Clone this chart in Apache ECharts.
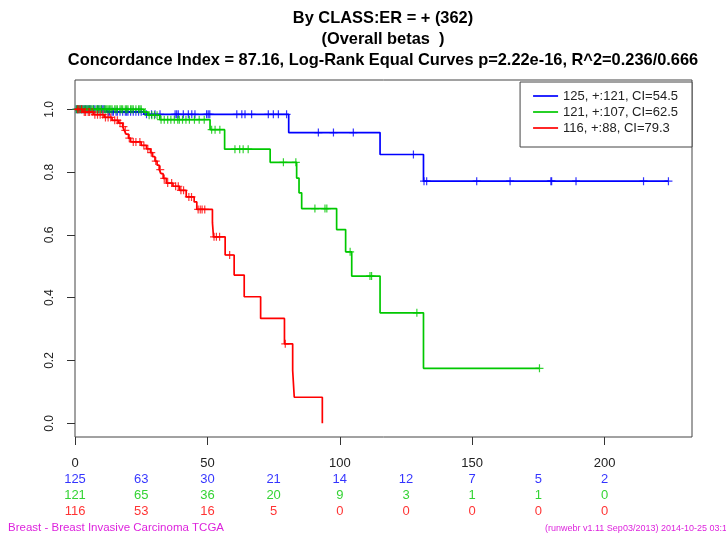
<!DOCTYPE html>
<html><head><meta charset="utf-8">
<script src="https://cdn.jsdelivr.net/npm/echarts@6/dist/echarts.min.js"></script>
<style>html,body{margin:0;padding:0;background:#fff}#c{width:726px;height:539px}</style>
</head><body><div id="c"></div>
<script>
// ---------- data ----------
const titleLines = [
  'By CLASS:ER = + (362)',
  '(Overall betas  )',
  'Concordance Index = 87.16, Log-Rank Equal Curves p=2.22e-16, R^2=0.236/0.666'
];
const footerLeft = 'Breast - Breast Invasive Carcinoma TCGA';
const footerRight = '(runwebr v1.11 Sep03/2013) 2014-10-25 03:10';
const groupNames = ['125, +:121, CI=54.5', '121, +:107, CI=62.5', '116, +:88, CI=79.3'];
const xTicks = [0, 50, 100, 150, 200];
const yTicks = [0, 0.2, 0.4, 0.6, 0.8, 1.0];

// Kaplan-Meier steps (time, survival after event)
const blueTimes = [0, 12, 26, 80.7, 115.2, 131.6];
const blueSurv  = [1, 0.992, 0.984, 0.926, 0.856, 0.771];
const blueLast  = 224.1;
const blueCensor = [0.5,1,1.5,2,2.5,3,3.5,4,4.5,5,5.5,6,7,7.5,8.5,9,10,10.5,11,12.5,13,14,14.5,15.5,16,17,18,19,19.5,20,21,22,23,24,25,27,28.9,30.2,32.1,37.8,38.4,39.0,40.9,42.8,44.1,45.3,49.7,50.3,50.9,61.1,63.0,64.2,66.7,73.0,74.9,76.8,79.9,91.9,97.6,105.1,127.8,131.8,132.8,151.7,164.3,179.7,180.0,189.2,214.7,224.1];

const greenTimes = [0, 26, 27.5, 32, 51.0, 56.5, 73.7, 83.7, 84.6, 85.6, 98.8, 102.2, 104.5, 115.2, 131.6];
const greenSurv  = [1, 0.991, 0.981, 0.967, 0.935, 0.873, 0.831, 0.781, 0.734, 0.684, 0.617, 0.546, 0.469, 0.352, 0.175];
const greenLast  = 175.4;
const greenCensor = [0.5,1,1.5,2,2.5,3,3.5,4,4.5,5,5.5,6,6.5,7,8,8.5,9,9.5,10,11,11.5,12,12.5,13,13.5,14,15,15.5,16,17,17.5,18,19,19.5,20,21,21.5,22,23,24,24.5,25,26.5,28,29,30,31,32.5,33.7,35.0,36.2,37.5,38.8,39.4,40.6,41.9,43.2,45.1,46.9,48.8,51.6,52.9,54.7,60.4,62.2,63.5,65.4,78.7,83.4,90.6,94.4,95.1,103.9,111.4,112.0,129.1,175.4];

const redTimes = [0, 3, 7, 11, 14, 16.5, 18, 18.6, 19.3, 20.2, 21, 25, 27, 28.5, 29.3, 30.2, 31, 31.8, 32.5, 33.3, 34.5, 37, 39.5, 42, 45, 46, 51.9, 52.3, 56.7, 60.1, 63.9, 70.1, 79.1, 82.2, 82.8, 93.4];
const redSurv  = [1, 0.991, 0.983, 0.974, 0.965, 0.956, 0.945, 0.933, 0.921, 0.908, 0.896, 0.885, 0.874, 0.862, 0.849, 0.835, 0.822, 0.808, 0.795, 0.78, 0.765, 0.755, 0.742, 0.721, 0.705, 0.681, 0.639, 0.594, 0.536, 0.472, 0.403, 0.334, 0.253, 0.168, 0.083, 0];
const redLast  = 93.4;
const redCensor = [1,1.5,2.5,3.5,4,5,5.5,6.5,7.5,8.5,9.5,10.5,11.5,12.5,13.5,15,16,17,18.3,19,20.5,22,23,24.5,26,27.5,28.8,30.5,32.2,33.7,35,36.5,38,39,40,41,43,44,46.5,47.3,48,49,52.5,53.4,54.6,58.4,79.4];

// numbers at risk
const riskTimes = [0, 25, 50, 75, 100, 125, 150, 175, 200];
const blueRisk  = [125, 63, 30, 21, 14, 12, 7, 5, 2];
const greenRisk = [121, 65, 36, 20, 9, 3, 1, 1, 0];
const redRisk   = [116, 53, 16, 5, 0, 0, 0, 0, 0];

// ---------- build ----------
const colors = ['#0000ff', '#00c800', '#ff0000'];
const FONT = '"Liberation Sans", Arial, Helvetica, sans-serif';
const groups = [
  {t: blueTimes, s: blueSurv, last: blueLast, c: blueCensor, r: blueRisk},
  {t: greenTimes, s: greenSurv, last: greenLast, c: greenCensor, r: greenRisk},
  {t: redTimes, s: redSurv, last: redLast, c: redCensor, r: redRisk}
];
function survAt(g, x) {
  let v = g.s[0];
  for (let i = 0; i < g.t.length; i++) if (g.t[i] <= x) v = g.s[i];
  return v;
}
const XMAX = 233.0, YMIN = -0.0436, YMAX = 1.0933;
const series = [];
groups.forEach((g, k) => {
  const pts = g.t.map((t, i) => [t, g.s[i]]);
  if (g.last > g.t[g.t.length - 1]) pts.push([g.last, g.s[g.s.length - 1]]);
  series.push({
    type: 'line', name: groupNames[k], step: 'end', data: pts,
    xAxisIndex: 0, yAxisIndex: 0,
    symbol: 'none', lineStyle: {color: colors[k], width: 1.7}, itemStyle: {color: colors[k]},
    silent: true, z: 2 + k
  });
});
groups.forEach((g, k) => {
  series.push({
    type: 'scatter', name: 'censor' + k, data: g.c.map(x => [x, survAt(g, x)]),
    xAxisIndex: 0, yAxisIndex: 0,
    symbol: 'path://M5 0L5 10M0 5L10 5', symbolSize: 8,
    itemStyle: {color: colors[k], borderColor: colors[k], borderWidth: 1.2},
    silent: true, z: 2 + k
  });
});
groups.forEach((g, k) => {
  series.push({
    type: 'scatter', name: 'risk' + k,
    data: riskTimes.map((t, i) => [t, k, g.r[i]]),
    xAxisIndex: 1, yAxisIndex: 1,
    symbolSize: 1, itemStyle: {color: 'transparent'},
    label: {show: true, position: 'inside', formatter: p => String(p.value[2]),
      color: colors[k], fontSize: 13, fontFamily: FONT},
    silent: true
  });
});

const chart = echarts.init(document.getElementById('c'), null, {renderer: 'canvas'});
chart.setOption({
  animation: false,
  backgroundColor: '#fff',
  grid: [
    {left: 75, right: 34, top: 80, bottom: 102, show: true, borderColor: '#444', borderWidth: 1, backgroundColor: 'transparent'},
    {left: 75, right: 34, top: 471, height: 48, show: false}
  ],
  xAxis: [
    {type: 'value', gridIndex: 0, position: 'bottom', min: 0, max: XMAX, splitLine: {show: false},
      axisLine: {show: false, onZero: false},
      axisTick: {show: true, inside: false, customValues: xTicks, length: 8, lineStyle: {color: '#333'}},
      axisLabel: {show: true, inside: false, customValues: xTicks, margin: 20, fontSize: 13, fontFamily: FONT, color: '#222'}},
    {type: 'value', gridIndex: 1, min: 0, max: XMAX, show: false}
  ],
  yAxis: [
    {type: 'value', gridIndex: 0, position: 'left', min: YMIN, max: YMAX, splitLine: {show: false},
      axisLine: {show: false, onZero: false},
      axisTick: {show: true, inside: false, customValues: yTicks, length: 8, lineStyle: {color: '#333'}},
      axisLabel: {show: true, customValues: yTicks, rotate: 90, margin: 19, fontSize: 12, fontFamily: FONT, color: '#222',
        formatter: v => v.toFixed(1)}},
    {type: 'category', gridIndex: 1, data: groupNames, inverse: true, show: false}
  ],
  legend: {
    data: groupNames, orient: 'vertical', right: 34, top: 82,
    icon: 'path://M0 0L0 0M0 6.15L25 6.15L25 7.85L0 7.85ZM25 14L25 14',
    itemWidth: 25, itemHeight: 14, itemGap: 2, itemTextGap: 11,
    padding: [7, 14, 12, 13], borderColor: '#444', borderWidth: 1, backgroundColor: '#fff',
    selectedMode: false, textStyle: {fontSize: 13, fontFamily: FONT, color: '#222'}
  },
  graphic: [
    ...titleLines.map((t, i) => ({
      type: 'text', x: 383, y: 18 + 21 * i, silent: true,
      style: {text: t, textAlign: 'center', textVerticalAlign: 'middle', font: 'bold 16.4px ' + FONT, fill: '#000'}
    })),
    {type: 'text', x: 8, y: 528, silent: true,
      style: {text: footerLeft, textAlign: 'left', textVerticalAlign: 'middle', font: '11.5px ' + FONT, fill: '#dd22dd'}},
    {type: 'text', x: 545, y: 529, silent: true,
      style: {text: footerRight, textAlign: 'left', textVerticalAlign: 'middle', font: '9px ' + FONT, fill: '#dd22dd'}}
  ],
  series: series
});
</script></body></html>
